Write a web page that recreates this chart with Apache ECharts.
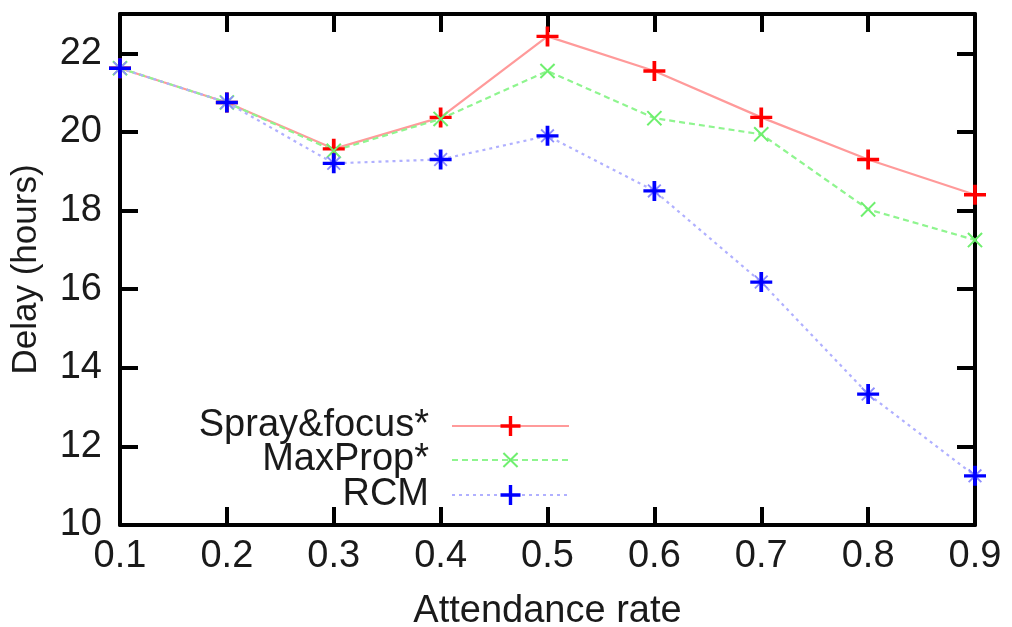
<!DOCTYPE html>
<html>
<head>
<meta charset="utf-8">
<script src="https://cdn.jsdelivr.net/npm/echarts@6/dist/echarts.min.js"></script>
<style>
  html, body { margin: 0; background: #fff; }
  #chart { width: 1012px; height: 627px; }
</style>
</head>
<body>
<div id="chart"></div>
<script>
const rates = ['0.1', '0.2', '0.3', '0.4', '0.5', '0.6', '0.7', '0.8', '0.9'];
const sprayFocus = [21.62, 20.75, 19.57, 20.37, 22.43, 21.55, 20.37, 19.3, 18.4];
const maxProp = [21.62, 20.75, 19.52, 20.33, 21.55, 20.35, 19.94, 18.03, 17.25];
const rcm = [21.62, 20.75, 19.2, 19.3, 19.9, 18.5, 16.18, 13.33, 11.25];
const yMin = 10;
const yMax = 23;
const yStep = 2;

const font = 'Liberation Sans';
const textColor = '#1a1a1a';
// plus shape, filled (echarts path symbols are filled, not stroked)
const plus = 'path://M-1.7,-10H1.7V-1.7H10V1.7H1.7V10H-1.7V1.7H-10V-1.7H-1.7Z';
const thinPlus = 'path://M-1,-10H1V-1H10V1H1V10H-1V1H-10V-1H-1Z';

const axisLine = { show: true, lineStyle: { color: '#000', width: 4 } };
const tick = { show: true, inside: true, length: 18, lineStyle: { color: '#000', width: 4 } };

const chart = echarts.init(document.getElementById('chart'));

const legendBox = (name, top) => ({
  data: [name],
  right: 442,
  top: top,
  orient: 'vertical',
  align: 'right',
  itemWidth: 117,
  itemHeight: 25,
  padding: 0,
  selectedMode: false,
  textStyle: { fontFamily: font, fontSize: 38, color: textColor, padding: [0, 18, 0, 0] }
});

chart.setOption({
  backgroundColor: '#fff',
  animation: false,
  grid: { left: 120, right: 37, top: 14, bottom: 102, outerBoundsMode: 'none' },
  legend: [
    legendBox('Spray&focus*', 407),
    legendBox('MaxProp*', 441),
    legendBox('RCM', 476)
  ],
  xAxis: [{
    type: 'category',
    data: rates,
    boundaryGap: false,
    name: 'Attendance rate',
    nameLocation: 'middle',
    nameGap: 68,
    nameTextStyle: { fontFamily: font, fontSize: 38, color: textColor },
    axisLine: axisLine,
    axisTick: tick,
    axisLabel: { fontFamily: font, fontSize: 38, color: textColor, margin: 13 },
    splitLine: { show: false }
  }, {
    type: 'category',
    data: rates,
    boundaryGap: false,
    position: 'top',
    axisLine: axisLine,
    axisTick: tick,
    axisLabel: { show: false },
    splitLine: { show: false }
  }],
  yAxis: [{
    type: 'value',
    min: yMin,
    max: yMax,
    interval: yStep,
    name: 'Delay (hours)',
    nameLocation: 'middle',
    nameGap: 76,
    nameTextStyle: { fontFamily: font, fontSize: 35, color: textColor },
    axisLine: axisLine,
    axisTick: tick,
    axisLabel: { fontFamily: font, fontSize: 38, color: textColor, margin: 18, showMaxLabel: false },
    splitLine: { show: false }
  }, {
    type: 'value',
    min: yMin,
    max: yMax,
    interval: yStep,
    position: 'right',
    axisLine: axisLine,
    axisTick: tick,
    axisLabel: { show: false },
    splitLine: { show: false }
  }],
  series: [{
    name: 'Spray&focus*',
    type: 'line',
    data: sprayFocus,
    symbol: plus,
    symbolSize: [22, 20],
    itemStyle: { color: '#ff0000' },
    lineStyle: { color: '#ff9a9a', width: 2.2, type: 'solid' }
  }, {
    name: 'MaxProp*',
    type: 'line',
    data: maxProp,
    symbol: thinPlus,
    symbolSize: 20,
    symbolRotate: 45,
    itemStyle: { color: '#6fef6f' },
    lineStyle: { color: '#8ff58f', width: 2.2, type: [6, 4] }
  }, {
    name: 'RCM x',
    type: 'line',
    data: rcm,
    symbol: thinPlus,
    symbolSize: 18,
    symbolRotate: 45,
    itemStyle: { color: '#8c8cff' },
    lineStyle: { opacity: 0 }
  }, {
    name: 'RCM',
    type: 'line',
    data: rcm,
    symbol: plus,
    symbolSize: [22, 20],
    itemStyle: { color: '#0000ff' },
    lineStyle: { color: '#b0b0ff', width: 2.2, type: [3, 4] }
  }]
});
</script>
</body>
</html>
